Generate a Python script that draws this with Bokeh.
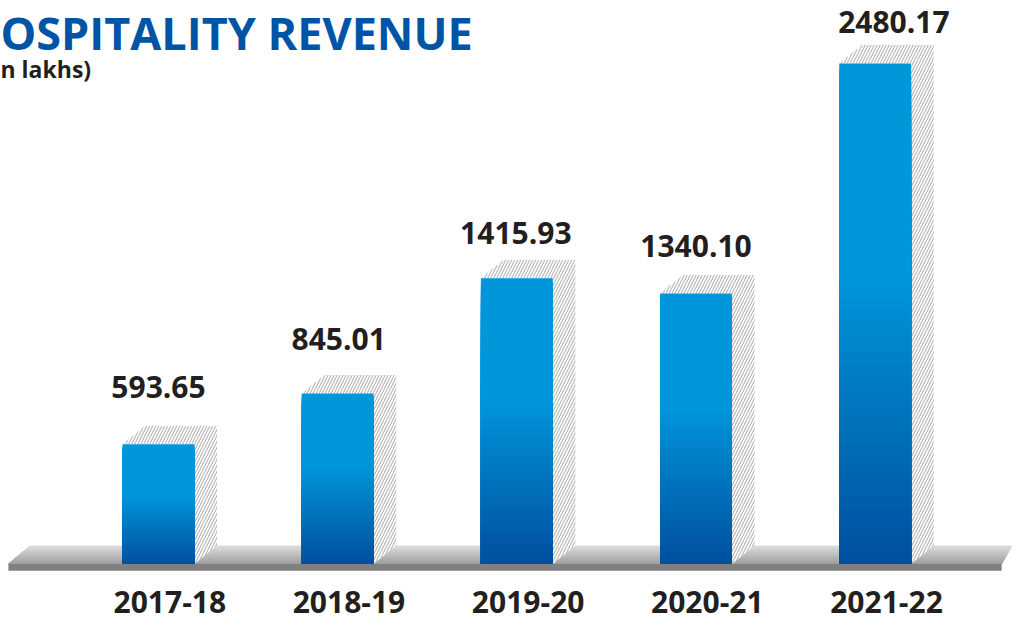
import numpy as np
from bokeh.plotting import figure
from bokeh.models import Range1d, ColumnDataSource, Label
from bokeh.core.properties import value
from bokeh.embed import file_html
from bokeh.resources import INLINE

# ---------------- data ----------------
years = ["2017-18", "2018-19", "2019-20", "2020-21", "2021-22"]
revenue = [593.65, 845.01, 1415.93, 1340.10, 2480.17]
value_labels = ["593.65", "845.01", "1415.93", "1340.10", "2480.17"]
title_text = "OSPITALITY REVENUE"
subtitle_text = "n lakhs)"

# ---------------- layout ----------------
W, H = 1012, 623
SX, SY = W / 1028.0, H / 639.0
PX_PER_X = 182.0 * SX      # pixels per category step
PX_PER_Y = 0.207 * SY      # pixels per lakh
X0 = 160.5 * SX            # first bar centre, px from left
BASE = H - 578 * SY        # baseline, px from bottom
TXT_SHIFT = 10             # empirical baseline correction for text, px
x_start = -X0 / PX_PER_X
x_end = x_start + W / PX_PER_X
y_start = -BASE / PX_PER_Y
y_end = y_start + H / PX_PER_Y


def px_x(px):
    return x_start + px / PX_PER_X


def px_y(px):
    return y_start + px / PX_PER_Y


DXP, DYP = 23 * SX, 19 * SY
dx = DXP / PX_PER_X
dy = DYP / PX_PER_Y
hw = 36.5 * SX / PX_PER_X

p = figure(width=W, height=H, output_backend="svg", toolbar_location=None,
           x_range=Range1d(x_start, x_end), y_range=Range1d(y_start, y_end),
           min_border=0, outline_line_color=None, background_fill_color="white",
           border_fill_color="white")
p.axis.visible = False
p.grid.visible = False


def lerp(a, b, t):
    return a + (b - a) * t


def hexcol(c):
    return "#%02x%02x%02x" % tuple(int(round(v)) for v in c)


# ---------------- floor ----------------
FL_B, FL_T = BASE, BASE + DYP
XL_B, XL_T = 8 * SX, 30 * SX
XR_B, XR_T = 1017 * SX, 1028 * SX
n_floor = 19
fxs, fys, fcols = [], [], []
for k in range(n_floor):
    t1 = (k + 1) / n_floor
    yt = lerp(FL_B, FL_T, t1)
    fxs.append([px_x(XL_B), px_x(lerp(XL_B, XL_T, t1)), px_x(lerp(XR_B, XR_T, t1)), px_x(XR_B)])
    fys.append([px_y(FL_B), px_y(yt), px_y(yt), px_y(FL_B)])
    fcols.append(hexcol([lerp(158, 222, (k + 0.5) / n_floor)] * 3))
p.patches(fxs[::-1], fys[::-1], fill_color=fcols[::-1], line_color=None)
p.quad(left=[px_x(XL_B)], right=[px_x(XR_B)], bottom=[px_y(H - 585 * SY)], top=[px_y(FL_B)],
       fill_color="#808082", line_color=None)

# ---------------- hatched 3D faces ----------------
xs_h, ys_h = [], []
for i, v in enumerate(revenue):
    l, r = i - hw, i + hw
    xs_h.append([l, l + dx, r + dx, r + dx, r, r])
    ys_h.append([v, v + dy, v + dy, dy, 0, v])
p.patches(xs_h, ys_h, fill_color="white", line_color=None,
          hatch_pattern="/", hatch_color="#b4b4b4", hatch_scale=6, hatch_weight=1.1)

# ---------------- gradient bars ----------------
light = (0, 150, 218)
dark = (0, 79, 159)
N = 80
L, R, B, T, C = [], [], [], [], []
for i, v in enumerate(revenue):
    for k in range(N, 0, -1):          # tallest strip first, shorter ones on top
        t = v * k / N
        frac_top = 1 - (k - 0.5) / N
        if frac_top < 0.42:
            col = light
        else:
            s = (frac_top - 0.42) / 0.58
            col = tuple(lerp(light[j], dark[j], s) for j in range(3))
        L.append(i - hw)
        R.append(i + hw)
        B.append(0)
        T.append(t)
        C.append(hexcol(col))
src = ColumnDataSource(dict(left=L, right=R, bottom=B, top=T, color=C))
p.quad(left="left", right="right", bottom="bottom", top="top", source=src,
       fill_color="color", line_color=None)

# ---------------- value labels ----------------
label_gap_px = [48, 46, 36, 39, 32]
label_dx_px = [0, 1, -1, 0, 19]
vx = [i + label_dx_px[i] * SX / PX_PER_X for i in range(len(revenue))]
vy = [revenue[i] + (label_gap_px[i] * SY + TXT_SHIFT) / PX_PER_Y for i in range(len(revenue))]
p.text(x=vx, y=vy, text=value_labels, text_align="center", text_baseline="alphabetic",
       text_font=value("Open Sans"), text_font_style="bold", text_font_size="30px",
       text_color="#231f20")

# ---------------- category labels ----------------
cx = [i + 11.5 * SX / PX_PER_X for i in range(len(years))]
cy = [px_y(H - 632 * SY + TXT_SHIFT + 5)] * len(years)
p.text(x=cx, y=cy, text=years, text_align="center", text_baseline="alphabetic",
       text_font=value("Open Sans"), text_font_style="bold", text_font_size="30px",
       text_color="#231f20")

# ---------------- title ----------------
p.add_layout(Label(x=0, y=H - 42 * SY + 9, x_units="screen", y_units="screen", text=title_text,
                   text_font="Open Sans", text_font_style="bold", text_font_size="45px",
                   text_color="#0054a6", text_baseline="alphabetic"))
p.add_layout(Label(x=0, y=H - 78 * SY + 8, x_units="screen", y_units="screen",
                   text=subtitle_text,
                   text_font="Open Sans", text_font_style="bold", text_font_size="23px",
                   text_color="#231f20", text_baseline="alphabetic"))

open("out.html", "w").write(file_html(p, INLINE))
